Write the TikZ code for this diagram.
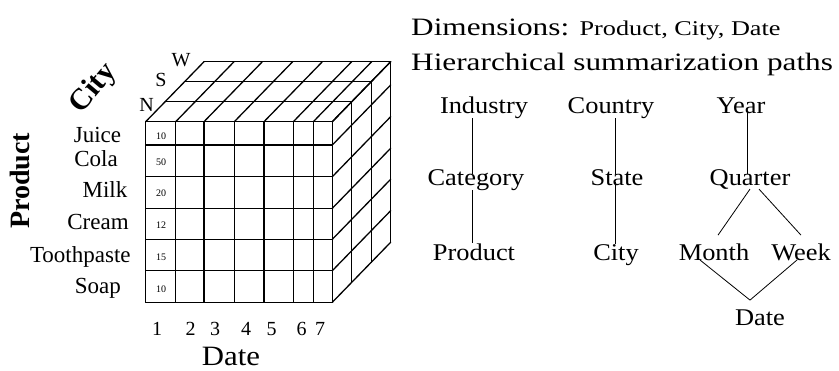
\documentclass[tikz,border=0pt]{standalone}
\usepackage{fontspec}
\setmainfont{Liberation Serif}
\newfontfamily\hdrfont[FakeStretch=1.25]{Liberation Serif}
\newfontfamily\lvlfont[FakeStretch=1.1]{Liberation Serif}
\usetikzlibrary{calc}

\begin{document}
\begin{tikzpicture}[x=1pt,y=-1pt,inner sep=0pt,
  cube/.style={line width=1.3pt,line cap=round},
  link/.style={line width=0.8pt},
  item/.style={font=\fontsize{23}{23}\selectfont,anchor=base},
  cell/.style={font=\fontsize{10}{10}\selectfont},
  tick/.style={font=\fontsize{20}{20}\selectfont,anchor=base},
  axis/.style={font=\bfseries\fontsize{28}{28}\selectfont},
  level/.style={font=\lvlfont\fontsize{24}{24}\selectfont,anchor=base}]
\useasboundingbox (0,0) rectangle (839,370);
\def\dx{19.45}
\def\dy{-20}

% the cube
\foreach \x in {145.7,175.7,204,234.3,264,293.3,313.3,332.3}{
  \draw[cube] (\x,121.7) -- (\x,302.3);
  \draw[cube] (\x,121.7) -- ++(3*\dx,3*\dy);
}
\foreach \y in {121.7,145,176.7,208.3,239.3,270.7,302.3}{
  \draw[cube] (145.7,\y) -- (332.3,\y);
  \draw[cube] (332.3,\y) -- ++(3*\dx,3*\dy);
}
\foreach \k in {1,2,3}{
  \draw[cube] ({145.7+\k*\dx},{121.7+\k*\dy}) -- ++(186.6,0);
  \draw[cube] ({332.3+\k*\dx},{121.7+\k*\dy}) -- ++(0,180.6);
}

% cells and axes
\foreach \v/\y [count=\i] in {10/136.7,50/162.3,20/193.3,12/225,15/257.7,10/289.3}
  \node[cell] (v\i) at (161,\y) {\v};
\node[item] (juice) at (97.5,142) {Juice};
\node[item] (cola) at (96,166) {Cola};
\node[item] (milk) at (105,197) {Milk};
\node[item] (cream) at (98,229) {Cream};
\node[item] (tooth) at (80.3,262) {Toothpaste};
\node[item] (soap) at (97.8,293) {Soap};
\node[axis,rotate=90] (product) at (20,181) {Product};
\node[axis,rotate=50,font=\bfseries\fontsize{30}{30}\selectfont] (city) at (93.5,88.5) {City};
\node[tick,anchor=center] (n) at (146.5,105) {N};
\node[tick,anchor=center] (s) at (161,80) {S};
\node[tick,anchor=center] (w) at (181,60) {W};
\foreach \d/\x in {1/157,2/190.7,3/215,4/246,5/271.7,6/301.7,7/320}
  \node[tick] (d\d) at (\x,335) {\d};
\node[level,font=\lvlfont\fontsize{28}{28}\selectfont] (date) at (231,365) {Date};

% header
\node[anchor=base west,font=\hdrfont\fontsize{25}{25}\selectfont] (dims) at (411,35)
  {Dimensions: {\fontsize{21}{21}\selectfont Product, City, Date}};
\node[anchor=base west,font=\hdrfont\fontsize{25}{25}\selectfont] (paths) at (411,70)
  {Hierarchical summarization paths};

% summarization paths
\node[level] (ind) at (484,113) {Industry};
\node[level] (ctry) at (611,113) {Country};
\node[level] (year) at (741,113) {Year};
\node[level] (cat) at (476,185) {Category};
\node[level] (state) at (617,185) {State};
\node[level] (qtr) at (750,185) {Quarter};
\node[level] (lprod) at (474,260) {Product};
\node[level] (lcity) at (616,260) {City};
\node[level] (month) at (714,260) {Month};
\node[level] (week) at (801,260) {Week};
\node[level] (dateh) at (760,325) {Date};
\coordinate (pl) at (472,0);
\coordinate (cl) at (615,0);
\coordinate (tl) at (747,0);
\coordinate (apex) at ([xshift=-10pt,yshift=9pt]dateh.north);

\draw[link,shorten >=-5pt] (ind.south -| pl) -- (cat.north -| pl);
\draw[link] (cat.south -| pl) -- (lprod.north -| pl);
\draw[link,shorten >=-5pt] (ctry.south -| cl) -- (state.north -| cl);
\draw[link,shorten <=-3pt] (state.south -| cl) -- (lcity.north -| cl);
\draw[link,shorten >=-5pt] (year.south -| tl) -- (qtr.north -| tl);
\draw[link] (qtr.south) -- ([xshift=4pt,yshift=8pt]month.north);
\draw[link] ([xshift=9pt]qtr.south) -- ([yshift=8pt]week.north);
\draw[link] ([xshift=-14pt]month.base) -- (apex) -- ([xshift=-4pt]week.base);
\end{tikzpicture}
\end{document}
